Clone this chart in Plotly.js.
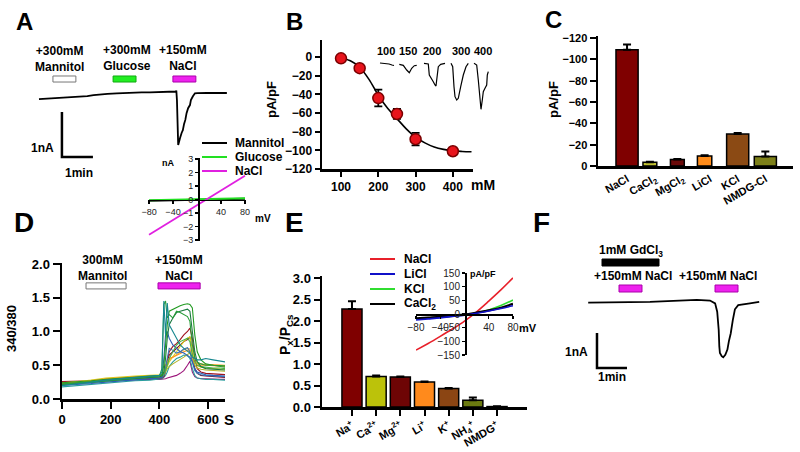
<!DOCTYPE html>
<html><head><meta charset="utf-8">
<script src="https://cdn.plot.ly/plotly-3.0.1.min.js"></script>
<style>html,body{margin:0;padding:0;background:#fff}#chart{width:800px;height:452px}</style>
</head><body><div id="chart"></div>
<script>
// ================= DATA =================
// Panel A: whole-cell current trace (time in min, current in nA)
const aTime = [0.29,0.5,0.75,0.97,1.2,1.45,1.61,1.85,2.05,2.26,2.5,2.8,3.05,3.32,3.6,3.87,4.15,4.42,4.6,4.70,4.72,4.74,4.78,4.81,4.84,4.89,4.93,4.97,5.01,5.05,5.10,5.16,5.19,5.25,5.32,5.40,5.48,5.7,5.95,6.15,6.35];
const aCurrent = [-0.16,-0.15,-0.15,-0.14,-0.13,-0.12,-0.10,-0.09,-0.07,-0.05,-0.04,-0.03,-0.02,-0.016,-0.01,-0.007,0.0,0.007,0.01,0.011,0.03,-0.18,-1.18,-1.08,-1.02,-0.91,-0.85,-0.71,-0.62,-0.47,-0.36,-0.29,-0.18,-0.10,-0.03,-0.025,-0.022,-0.02,-0.022,-0.02,-0.022];
const aPulseLabels = ['+300mM<br>Mannitol','+300mM<br>Glucose','+150mM<br>NaCl'];
const aPulseStart = [0.74,2.68,4.61];
const aPulseEnd = [1.48,3.42,5.35];
// Panel A inset: I-V (mV, nA)
const aIvVoltage = [-80,-40,0,40,80];
const aIvMannitol = [-0.1,-0.06,-0.02,0.02,0.06];
const aIvGlucose = [-0.06,-0.03,0.0,0.04,0.1];
const aIvNaCl = [-2.6,-1.5,-0.42,0.68,1.75];

// Panel B: dose response (mM, pA/pF)
const bConc = [100,150,200,250,300,400];
const bDensity = [-1.4,-12,-44,-61,-88,-101];
const bError = [1.5,3,9,5.3,6.7,1.5];
const bFitConc = [100,125,150,175,200,225,250,275,300,325,350,375,400,425,450];
const bFitDensity = [-1,-4,-11,-24,-41,-55,-66,-77,-86,-92,-96.5,-99,-100.5,-101.2,-101.6];
// Panel B mini traces (relative time, relative current)
const miniLabels = ['100','150','200','300','400'];
const mini100T = [5,10,14,17,19], mini100I = [0,-0.3,-1,-2,-2.5];
const mini150T = [24.3,28.3,31.7,34.3,36.7,39.3,41.7], mini150I = [-1.3,-2.3,-7,-9.7,-5.3,-2.7,-2.3];
const mini200T = [49,53.3,54.3,56.7,58.3,60,61,61.7,63.3,65.7,70], mini200I = [-0.3,-1,-12,-17,-18.7,-22,-23,-17,-3.7,-1.3,-0.3];
const mini300T = [76,77.7,79,80,81.7,83.3,85.7,88.3,91,93.3], mini300I = [-0.3,-3.7,-23.7,-33.7,-37,-35.3,-23.7,-12,-3.7,-0.3];
const mini400T = [99,101.7,103.3,105,106,107.3,108.3,110,111.7,112.3,113.3], mini400I = [-0.3,-2,-17,-37,-46.3,-37,-28.7,-25.3,-22,-12,-8.7];

// Panel C: current density per salt
const cLabels = ['NaCl','CaCl<sub>2</sub>','MgCl<sub>2</sub>','LiCl','KCl','NMDG-Cl'];
const cValues = [-109,-3.5,-6,-9.5,-30,-9];
const cErrors = [5,0.6,0.6,0.6,1,4.5];

// Panel D: Fura-2 ratio traces (s, 340/380)
const dTime = [0,60,120,180,240,300,360,400,410,418,425,432,440,455,470,485,500,515,525,535,545,555,570,590,620,650,670];
const dCell1 = [0.20,0.22,0.25,0.28,0.30,0.32,0.34,0.35,0.40,1.45,0.95,1.42,1.10,1.00,0.90,0.80,0.75,0.70,0.68,0.62,0.60,0.58,0.58,0.60,0.58,0.56,0.55];
const dCell2 = [0.22,0.24,0.26,0.28,0.30,0.31,0.33,0.34,0.45,1.40,1.45,1.20,1.25,1.20,1.30,1.28,1.25,1.22,1.15,0.80,0.62,0.55,0.52,0.50,0.50,0.48,0.47];
const dCell3 = [0.24,0.25,0.27,0.29,0.31,0.32,0.34,0.35,0.36,0.50,0.80,1.10,1.30,1.33,1.35,1.38,1.40,1.41,1.40,1.35,0.95,0.70,0.58,0.52,0.50,0.50,0.49];
const dCell4 = [0.22,0.23,0.25,0.27,0.29,0.30,0.32,0.33,0.34,0.40,0.60,0.90,1.10,1.20,1.28,1.30,1.32,1.33,1.30,1.00,0.70,0.55,0.48,0.45,0.44,0.43,0.43];
const dCell5 = [0.20,0.21,0.23,0.25,0.27,0.28,0.30,0.31,0.32,0.60,0.95,1.00,0.90,0.80,0.75,0.70,0.68,0.65,0.62,0.55,0.45,0.40,0.38,0.36,0.35,0.35,0.34];
const dCell6 = [0.26,0.26,0.27,0.28,0.29,0.30,0.31,0.32,0.32,0.34,0.45,0.60,0.70,0.78,0.82,0.88,0.95,1.00,1.05,0.90,0.60,0.45,0.40,0.38,0.37,0.36,0.36];
const dCell7 = [0.24,0.25,0.26,0.27,0.28,0.29,0.30,0.31,0.31,0.33,0.40,0.55,0.65,0.70,0.75,0.80,0.85,0.88,0.92,0.70,0.45,0.38,0.35,0.34,0.33,0.33,0.32];
const dCell8 = [0.22,0.24,0.27,0.30,0.32,0.33,0.34,0.34,0.35,0.40,0.50,0.55,0.60,0.62,0.65,0.68,0.70,0.72,0.70,0.60,0.55,0.52,0.50,0.50,0.49,0.48,0.48];
const dCell9 = [0.23,0.25,0.28,0.31,0.33,0.34,0.35,0.35,0.36,0.38,0.42,0.48,0.55,0.62,0.70,0.78,0.85,0.90,0.92,0.70,0.55,0.50,0.47,0.46,0.45,0.45,0.44];
const dCell10 = [0.24,0.26,0.28,0.30,0.32,0.33,0.34,0.35,0.35,0.37,0.40,0.45,0.48,0.52,0.55,0.58,0.62,0.66,0.68,0.58,0.50,0.46,0.44,0.43,0.42,0.42,0.41];
const dCell11 = [0.25,0.25,0.26,0.27,0.28,0.28,0.29,0.29,0.29,0.30,0.30,0.31,0.32,0.33,0.35,0.38,0.42,0.50,0.56,0.40,0.33,0.31,0.30,0.30,0.29,0.29,0.29];
const dCell12 = [0.18,0.20,0.22,0.24,0.26,0.27,0.28,0.29,0.30,0.32,0.35,0.40,0.48,0.55,0.60,0.62,0.65,0.64,0.60,0.45,0.35,0.31,0.30,0.29,0.29,0.28,0.28];
const dCell13 = [0.21,0.22,0.24,0.26,0.28,0.29,0.30,0.31,0.32,0.35,0.45,0.60,0.75,0.72,0.68,0.70,0.74,0.76,0.70,0.55,0.42,0.38,0.36,0.35,0.34,0.34,0.33];
const dCell14 = [0.23,0.24,0.26,0.28,0.30,0.32,0.33,0.34,0.35,0.38,0.45,0.52,0.58,0.62,0.66,0.70,0.73,0.75,0.74,0.62,0.55,0.53,0.52,0.51,0.51,0.50,0.50];
const dCell15 = [0.21,0.23,0.25,0.27,0.29,0.31,0.32,0.33,0.34,0.36,0.42,0.50,0.60,0.70,0.80,0.85,0.88,0.90,0.85,0.65,0.55,0.50,0.48,0.47,0.46,0.46,0.45];
const dPulseLabels = ['300mM<br>Mannitol','+150mM<br>NaCl'];
const dPulseStart = [98.6,394];
const dPulseEnd = [263,567];

// Panel E: permeability ratios
const eLabels = ['Na<sup>+</sup>','Ca<sup>2+</sup>','Mg<sup>2+</sup>','Li<sup>+</sup>','K<sup>+</sup>','NH<sub>4</sub><sup>+</sup>','NMDG<sup>+</sup>'];
const eValues = [2.28,0.71,0.70,0.58,0.43,0.16,0.01];
const eErrors = [0.18,0.025,0.01,0.015,0.01,0.06,0.005];
// Panel E inset: I-V (mV, pA/pF)
const eIvVoltage = [-80,-60,-40,-20,0,20,40,60,80];
const eIvNaCl = [-132,-108,-82,-55,-26,8,47,88,132];
const eIvLiCl = [-22,-18,-14,-9,-4,3,11,20,30];
const eIvKCl = [-18,-15,-12,-8,-3,4,15,31,51];
const eIvCaCl2 = [-16,-13,-10,-6,-2,5,13,23,37];

// Panel F: current trace (min, nA)
const fTime = [0.94,1.56,2.22,3.0,3.78,4.56,5.0,5.17,5.24,5.29,5.31,5.33,5.39,5.44,5.51,5.58,5.63,5.69,5.76,5.83,5.94,6.11,6.33,6.64];
const fCurrent = [0.01,0.02,0.01,0.03,0.06,0.09,0.07,-0.01,-0.25,-0.77,-1.24,-1.43,-1.52,-1.55,-1.48,-1.33,-1.09,-0.87,-0.49,-0.18,-0.06,-0.03,-0.01,0.03];
const fGdStart = [1.4], fGdEnd = [3.3];
const fNaStart = [1.967,5.167], fNaEnd = [2.733,5.933];

// ================= LAYOUT HELPERS =================
const W=800,H=452;
const FONT='Arial, "Liberation Sans", sans-serif';
const NARROW='"Liberation Sans Narrow", "Arial Narrow", Arial, "Liberation Sans", sans-serif';
const fx=p=>p/W, fy=p=>1-p/H;
const xd=(a,b)=>[fx(a),fx(b)], yd=(t,b)=>[fy(b),fy(t)];
const hidden={visible:false,fixedrange:true};
function axis(extra){
  const base={showline:true,linecolor:'#000',linewidth:2.5,showgrid:false,zeroline:false,
    ticks:'outside',ticklen:6,tickwidth:2,tickcolor:'#000',
    tickfont:{family:FONT,size:12,color:'#000',weight:'bold'}};
  const o=Object.assign(base,extra);
  if(extra.tickfont) o.tickfont=Object.assign({family:FONT,size:12,color:'#000',weight:'bold'},extra.tickfont);
  return o;
}
const ann=[];
function txt(x,y,text,size,opt){
  ann.push(Object.assign({xref:'paper',yref:'paper',x:fx(x),y:fy(y),text:text,showarrow:false,
    xanchor:'center',yanchor:'middle',font:{family:FONT,size:size,color:'#000',weight:'bold'}},opt||{}));
}
const shapes=[];
function legLine(x0,x1,y,color,w){shapes.push({type:'line',xref:'paper',yref:'paper',x0:fx(x0),x1:fx(x1),y0:fy(y),y1:fy(y),line:{color:color,width:w||2}});}
function box(xr,yr,x0,x1,y0,y1,fill,line){shapes.push({type:'rect',xref:xr,yref:yr,x0:x0,x1:x1,y0:y0,y1:y1,fillcolor:fill,line:{color:line,width:1}});}

// ================= TRACES =================
const traces=[];
// A
traces.push({x:aTime,y:aCurrent,xaxis:'x',yaxis:'y',mode:'lines',line:{color:'#000',width:1.8},hoverinfo:'skip'});
traces.push({x:[1.03,1.03,2.03],y:[-0.444,-1.444,-1.444],xaxis:'x',yaxis:'y',mode:'lines',line:{color:'#000',width:2.5}});
const aColors=['#ffffff','#22ee22','#ee22ee'], aLines=['#777','#11aa11','#aa00aa'];
aPulseStart.forEach((s,i)=>box('x','y',s,aPulseEnd[i],0.222,0.356,aColors[i],aLines[i]));
txt(59,59,aPulseLabels[0],12,{font:{family:NARROW,size:12,weight:'bold',color:'#000'}});
txt(127,58,aPulseLabels[1],12,{font:{family:NARROW,size:12,weight:'bold',color:'#000'}});
txt(183,58,aPulseLabels[2],12,{font:{family:NARROW,size:12,weight:'bold',color:'#000'}});
// A inset IV
traces.push({x:aIvVoltage,y:aIvMannitol,xaxis:'x2',yaxis:'y2',mode:'lines',line:{color:'#000',width:2}});
traces.push({x:aIvVoltage,y:aIvGlucose,xaxis:'x2',yaxis:'y2',mode:'lines',line:{color:'#22e022',width:2}});
traces.push({x:aIvVoltage,y:aIvNaCl,xaxis:'x2',yaxis:'y2',mode:'lines',line:{color:'#e020e0',width:1.8}});
// B
traces.push({x:bFitConc,y:bFitDensity,xaxis:'x3',yaxis:'y3',mode:'lines',line:{color:'#000',width:1.6,shape:'spline'}});
traces.push({x:bConc,y:bDensity,xaxis:'x3',yaxis:'y3',mode:'markers',
  marker:{color:'#e8141c',size:11,line:{color:'#7a0000',width:1.5}},
  error_y:{type:'data',array:bError,visible:true,color:'#000',thickness:1.8,width:4}});
const miniT=[mini100T,mini150T,mini200T,mini300T,mini400T], miniI=[mini100I,mini150I,mini200I,mini300I,mini400I];
miniT.forEach((t,i)=>traces.push({x:t,y:miniI[i],xaxis:'x4',yaxis:'y4',mode:'lines',line:{color:'#000',width:1.2}}));
// C
const cColors=['#7f0000','#c2c232','#6b0a0a','#ff8c1a','#8b4a14','#7d8019'];
const cWidth=[0.8,0.5,0.5,0.52,0.8,0.8], cOffset=[-0.4,-0.424,-0.431,-0.456,-0.4,-0.4];
traces.push({type:'bar',x:cLabels,y:cValues,xaxis:'x5',yaxis:'y5',width:cWidth,offset:cOffset,
  marker:{color:cColors,line:{color:'#000',width:1.5}},
  error_y:{type:'data',symmetric:false,array:cErrors.map(()=>0),arrayminus:cErrors,color:'#000',thickness:2,width:4}});
// D
const dCells=[dCell11,dCell12,dCell7,dCell6,dCell10,dCell9,dCell14,dCell8,dCell13,dCell5,dCell15,dCell4,dCell3,dCell2,dCell1];
const dColors=['#9c157a','#2a9e9e','#7d0d22','#a0121e','#b5b52a','#d9cf1e','#f5ab3a','#ff9a1a','#3b77b8','#2b5fb5','#45b34a','#1b7a40','#239b23','#2a9d3a','#17878f'];
dCells.forEach((c,i)=>traces.push({x:dTime,y:c,xaxis:'x6',yaxis:'y6',mode:'lines',line:{color:dColors[i],width:1.1}}));
box('x6','y6',dPulseStart[0],dPulseEnd[0],1.63,1.72,'#ffffff','#777');
box('x6','y6',dPulseStart[1],dPulseEnd[1],1.63,1.72,'#ee22ee','#aa00aa');
// E
const eColors=['#7f0000','#bcc20a','#6e0505','#ff8a1c','#8b4513','#6b7a10','#888888'];
traces.push({type:'bar',x:eLabels,y:eValues,xaxis:'x7',yaxis:'y7',width:0.83,
  marker:{color:eColors,line:{color:'#000',width:1.5}},
  error_y:{type:'data',symmetric:false,array:eErrors,arrayminus:eErrors.map(()=>0),color:'#000',thickness:2,width:4}});
traces.push({x:eIvVoltage,y:eIvNaCl,xaxis:'x8',yaxis:'y8',mode:'lines',line:{color:'#e8202a',width:1.6,shape:'spline'}});
traces.push({x:eIvVoltage,y:eIvKCl,xaxis:'x8',yaxis:'y8',mode:'lines',line:{color:'#30dd30',width:1.6,shape:'spline'}});
traces.push({x:eIvVoltage,y:eIvCaCl2,xaxis:'x8',yaxis:'y8',mode:'lines',line:{color:'#000',width:2.2,shape:'spline'}});
traces.push({x:eIvVoltage,y:eIvLiCl,xaxis:'x8',yaxis:'y8',mode:'lines',line:{color:'#1010c8',width:1.6,shape:'spline'}});
// F
traces.push({x:fTime,y:fCurrent,xaxis:'x9',yaxis:'y9',mode:'lines',line:{color:'#000',width:1.8}});
traces.push({x:[1.233,1.233,2.233],y:[-0.857,-1.857,-1.857],xaxis:'x9',yaxis:'y9',mode:'lines',line:{color:'#000',width:2.5}});
box('x9','y9',fGdStart[0],fGdEnd[0],1.057,1.257,'#000000','#000');
fNaStart.forEach((s,i)=>box('x9','y9',s,fNaEnd[i],0.314,0.514,'#ee22ee','#aa00aa'));

// ================= TEXT =================
txt(24,22,'A',24); txt(294,21,'B',24); txt(553,19,'C',24);
txt(24,222,'D',28); txt(294,222,'E',28); txt(541,222,'F',28);
txt(42.5,147.5,'1nA',12); txt(78.5,173,'1min',12);
txt(168,163,'nA',9); txt(263,218,'mV',10);
legLine(202,227,143,'#000'); legLine(202,227,157,'#22e022'); legLine(202,227,171,'#e020e0');
txt(233,143,'Mannitol',12,{xanchor:'left'}); txt(233,157,'Glucose',12,{xanchor:'left'}); txt(233,171,'NaCl',12,{xanchor:'left'});
txt(271,100,'pA/pF',13,{textangle:-90}); txt(483,185,'mM',14);
[386,408,432,461,483].forEach((x,i)=>txt(x,51,miniLabels[i],11));
txt(553,100,'pA/pF',13,{textangle:-90});
txt(11,329,'340/380',13,{textangle:-90}); txt(229,419,'S',15);
txt(102,268,dPulseLabels[0],12,{font:{family:NARROW,size:12,weight:'bold',color:'#000'}});
txt(179,268,dPulseLabels[1],12,{font:{family:NARROW,size:12,weight:'bold',color:'#000'}});
txt(286,335,'P<sub>x</sub>/P<sub>Cs</sub>',14,{textangle:-90});
legLine(370,395,259,'#e8202a'); legLine(370,395,274,'#1010c8'); legLine(370,395,289,'#30dd30'); legLine(370,395,304,'#000');
txt(402,259,'NaCl',12,{xanchor:'left'}); txt(402,274,'LiCl',12,{xanchor:'left'}); txt(402,289,'KCl',12,{xanchor:'left'}); txt(402,304,'CaCl<sub>2</sub>',12,{xanchor:'left'});
txt(483,274,'pA/pF',9); txt(528,328,'mV',11);
const NF={family:NARROW,size:12,weight:'bold',color:'#000'};
txt(631,251,'1mM GdCl<sub>3</sub>',12,{font:NF});
txt(633,276,'+150mM NaCl',12,{font:NF}); txt(718,276,'+150mM NaCl',12,{font:NF});
txt(576,352,'1nA',12); txt(612,377,'1min',12);

// ================= LAYOUT =================
const smallTick={family:FONT,size:9,color:'#222',weight:'normal'};
const layout={
  width:W,height:H,margin:{l:0,r:0,t:0,b:0},paper_bgcolor:'#fff',plot_bgcolor:'rgba(0,0,0,0)',
  showlegend:false,font:{family:FONT,color:'#000'},
  xaxis:Object.assign({},hidden,{domain:xd(30,260),range:[0,7.419],anchor:'y'}),
  yaxis:Object.assign({},hidden,{domain:yd(40,190),range:[-2.178,1.156],anchor:'x'}),
  xaxis2:axis({domain:xd(148,246),range:[-81.7,81.7],anchor:'free',position:fy(199.5),linewidth:1.5,ticklen:3,tickwidth:1.2,tickvals:[-80,-40,40,80],tickfont:smallTick}),
  yaxis2:axis({domain:yd(158,241),range:[-3.07,3.07],anchor:'free',position:fx(198),linewidth:1.5,ticklen:3,tickwidth:1.2,tickvals:[-3,-2,-1,0,1,2,3],tickfont:smallTick}),
  xaxis3:axis({domain:xd(322,473),range:[49,454],anchor:'y3',tickvals:[100,200,300,400],ticklen:5}),
  yaxis3:axis({domain:yd(40,169),range:[-120,18.2],anchor:'x3',tickvals:[0,-20,-40,-60,-80,-100,-120],ticklen:5}),
  xaxis4:Object.assign({},hidden,{domain:xd(375,495),range:[0,120],anchor:'y4'}),
  yaxis4:Object.assign({},hidden,{domain:yd(55,115),range:[-52,8],anchor:'x4'}),
  xaxis5:axis({domain:xd(598,793),range:[-1.05,6.0],anchor:'y5',type:'category',ticks:'',tickangle:-30,tickfont:{size:11}}),
  yaxis5:axis({domain:yd(36,166),range:[0,-122],anchor:'x5',tickvals:[0,-20,-40,-60,-80,-100,-120],tickfont:{size:11}}),
  xaxis6:axis({domain:xd(62,225),range:[0,669],anchor:'y6',tickvals:[0,200,400,600],ticklen:7,tickfont:{size:13}}),
  yaxis6:axis({domain:yd(262.6,399),range:[0,2.02],anchor:'x6',tickvals:[0,0.5,1,1.5,2],tickformat:'.1f',ticklen:7,tickfont:{size:13}}),
  xaxis7:axis({domain:xd(322,527),range:[-1.24,7.24],anchor:'y7',type:'category',tickangle:-30,tickfont:{size:11}}),
  yaxis7:axis({domain:yd(276,407),range:[0,3.05],anchor:'x7',tickvals:[0,0.5,1,1.5,2,2.5,3],tickformat:'.1f',tickfont:{size:13}}),
  xaxis8:axis({domain:xd(416,513),range:[-80,80],anchor:'free',position:fy(314),linewidth:1.5,ticklen:3,tickwidth:1.2,tickvals:[-80,-40,40,80],tickfont:{family:FONT,size:10,color:'#222',weight:'normal'}}),
  yaxis8:axis({domain:yd(273,355),range:[-150,150],anchor:'free',position:fx(465),linewidth:1.5,ticklen:3,tickwidth:1.2,tickvals:[-150,-100,-50,0,50,100,150],tickfont:{family:FONT,size:10,color:'#222',weight:'normal'}}),
  xaxis9:Object.assign({},hidden,{domain:xd(560,780),range:[0,7.333],anchor:'y9'}),
  yaxis9:Object.assign({},hidden,{domain:yd(240,400),range:[-2.771,1.8],anchor:'x9'}),
  shapes:shapes,annotations:ann
};
traces.forEach(t=>{if(!t.hoverinfo)t.hoverinfo='skip';});
Plotly.newPlot('chart',traces,layout,{displayModeBar:false,staticPlot:true});
</script></body></html>
